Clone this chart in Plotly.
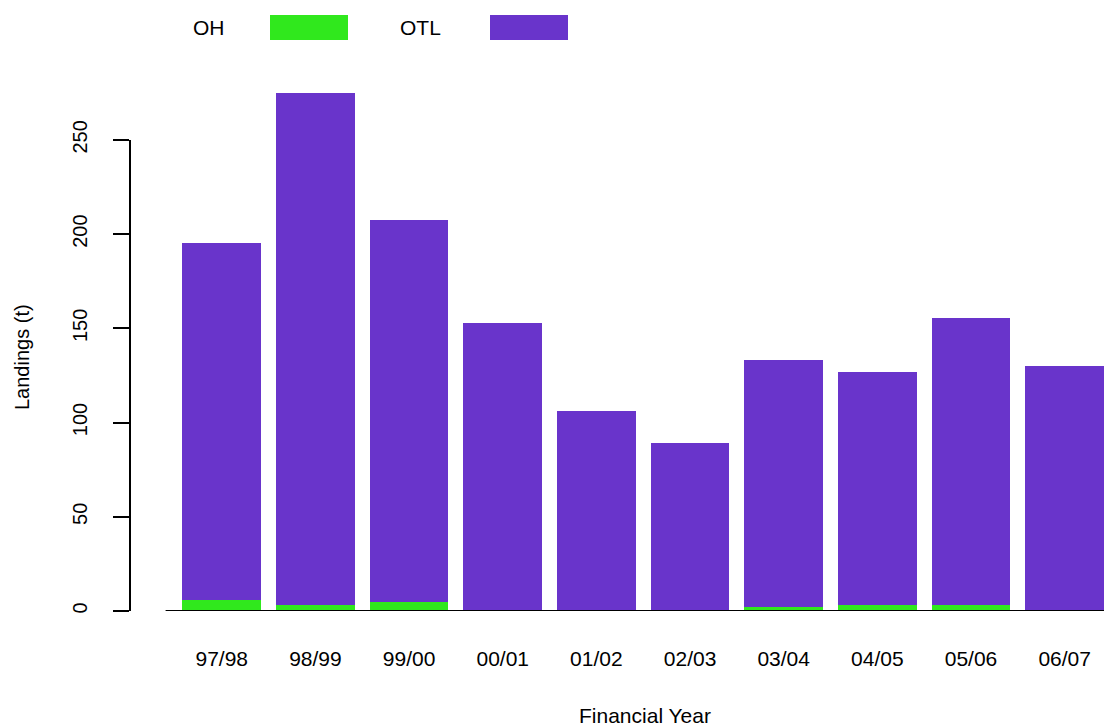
import plotly.graph_objects as go

years = ["97/98", "98/99", "99/00", "00/01", "01/02", "02/03", "03/04", "04/05", "05/06", "06/07"]
oh = [5.9, 3.0, 4.8, 0.7, 0.0, 0.0, 1.9, 3.4, 3.4, 0.0]
otl = [189.3, 272.0, 202.6, 152.0, 106.4, 89.4, 131.1, 123.6, 152.3, 130.2]
y_ticks = [0, 50, 100, 150, 200, 250]

GREEN = "#30E81D"
PURPLE = "#6934CB"
FONT = "Liberation Sans, Arial, sans-serif"

# plot box in pixels: left 130, right 1104, top 83, bottom 611
W, H = 1104, 727
L, R, T, B = 130, 1104, 83, 611


def px_x(v):
    return (v - L) / (R - L)


def px_y(v):
    return (B - v) / (B - T)


fig = go.Figure()
fig.add_trace(go.Bar(x=years, y=oh, name="OH", marker=dict(color=GREEN, line=dict(width=0))))
fig.add_trace(go.Bar(x=years, y=otl, name="OTL", marker=dict(color=PURPLE, line=dict(width=0))))

fig.update_layout(
    width=W,
    height=H,
    barmode="stack",
    bargap=0.16,
    showlegend=False,
    plot_bgcolor="white",
    paper_bgcolor="white",
    font=dict(family=FONT, size=22, color="black"),
    margin=dict(l=L, r=W - R, t=T, b=H - B, autoexpand=False),
)

fig.update_xaxes(
    type="category",
    range=[-0.98, 9.42],
    showgrid=False,
    zeroline=False,
    showline=False,
    ticks="",
    ticklabelstandoff=33,
    tickfont=dict(size=21),
)
fig.update_yaxes(
    range=[0, 280.2],
    tickvals=y_ticks,
    ticktext=[str(v) for v in y_ticks],
    tickangle=-90,
    ticks="outside",
    ticklen=16,
    tickwidth=2,
    tickcolor="black",
    ticklabelstandoff=18,
    showgrid=False,
    zeroline=False,
    showline=False,
    tickfont=dict(size=20),
)

# R-style axis lines
fig.add_shape(type="line", xref="paper", yref="y", x0=0, x1=0, y0=0, y1=250,
              line=dict(color="black", width=2))
fig.add_shape(type="line", xref="x", yref="y", x0=-0.6, x1=9.42, y0=0, y1=0,
              line=dict(color="black", width=2))

# legend: label followed by swatch
for label, color, tx, bx0, bx1 in [("OH", GREEN, 209, 270, 348), ("OTL", PURPLE, 420, 490, 568)]:
    fig.add_annotation(text=label, xref="paper", yref="paper", x=px_x(tx), y=px_y(28),
                       showarrow=False, xanchor="center", yanchor="middle", font=dict(size=21))
    fig.add_shape(type="rect", xref="paper", yref="paper", x0=px_x(bx0), x1=px_x(bx1),
                  y0=px_y(40), y1=px_y(15), fillcolor=color, line=dict(width=0))

fig.add_annotation(text="Financial Year", xref="paper", yref="paper", x=px_x(645), y=px_y(716),
                   showarrow=False, xanchor="center", yanchor="middle", font=dict(size=21))
fig.add_annotation(text="Landings (t)", xref="paper", yref="paper", x=px_x(22), y=px_y(357),
                   showarrow=False, xanchor="center", yanchor="middle", textangle=-90,
                   font=dict(size=20))

fig.write_html("out.html", config={"displayModeBar": False},
               post_script="document.body.style.margin = '0';")
